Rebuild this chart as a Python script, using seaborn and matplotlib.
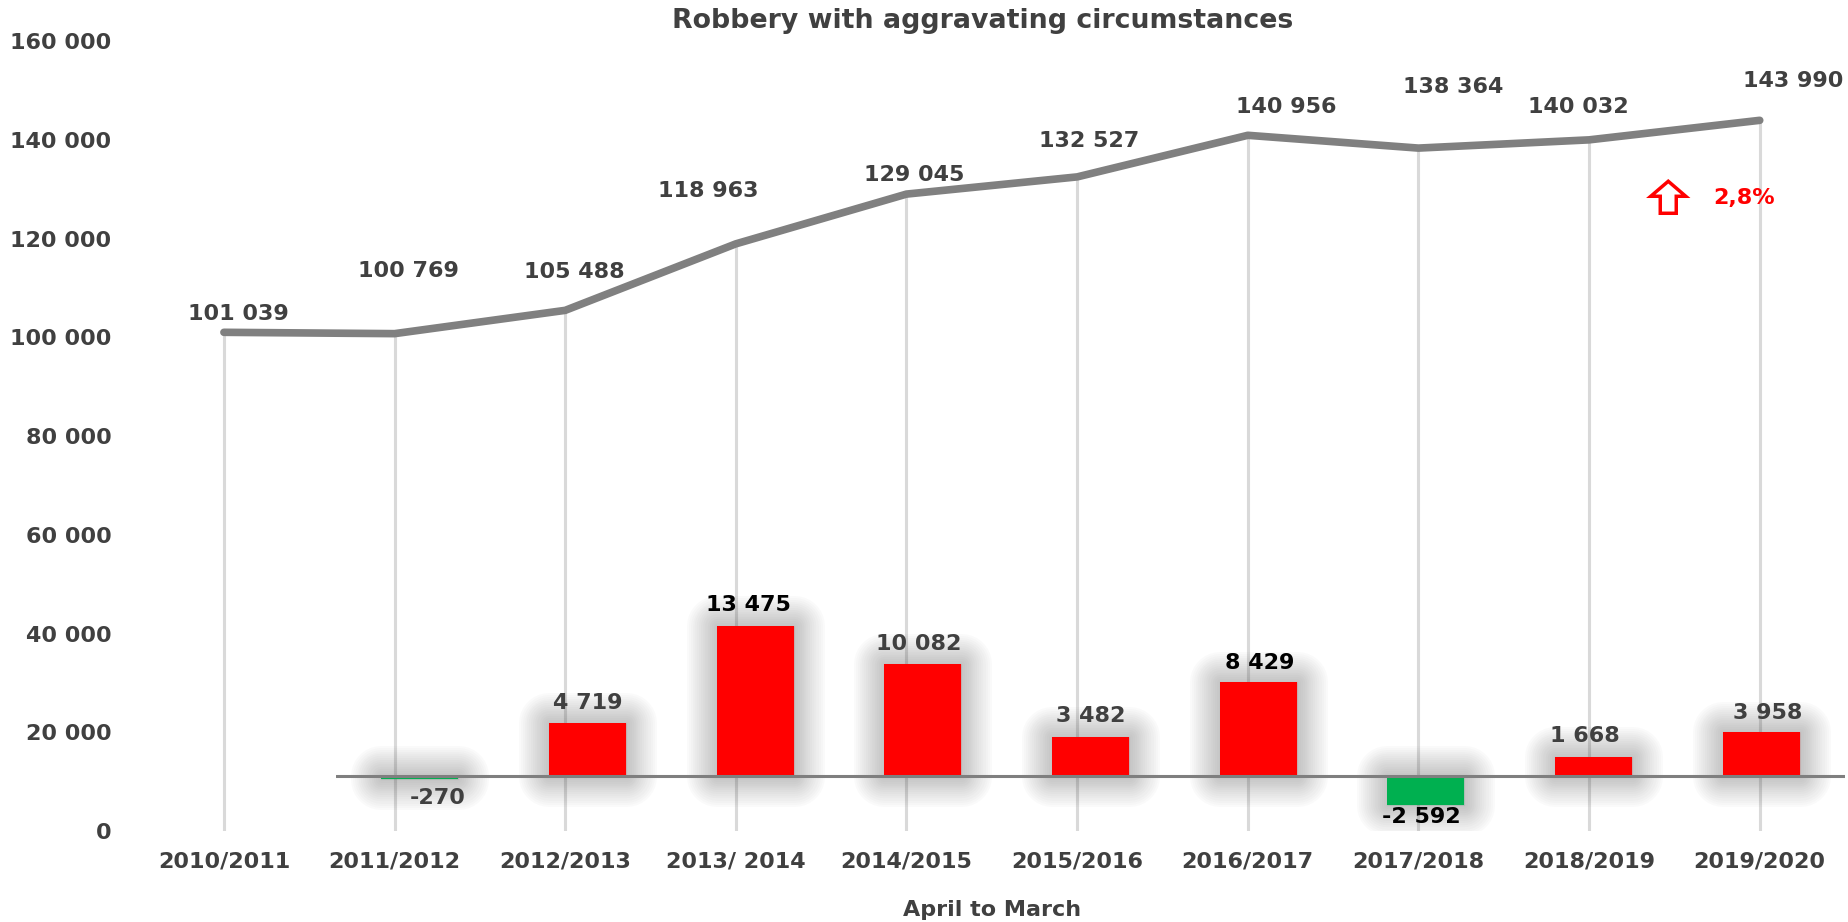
import matplotlib
matplotlib.use("Agg")
import matplotlib.pyplot as plt
import matplotlib.patheffects as pe
import matplotlib.transforms as mtransforms
from matplotlib.patches import Polygon
import pandas as pd
import seaborn as sns

# data
years = ["2010/2011", "2011/2012", "2012/2013", "2013/ 2014", "2014/2015",
         "2015/2016", "2016/2017", "2017/2018", "2018/2019", "2019/2020"]
totals = [101039, 100769, 105488, 118963, 129045, 132527, 140956, 138364, 140032, 143990]
changes = [-270, 4719, 13475, 10082, 3482, 8429, -2592, 1668, 3958]

TXT = "#404040"
FS = 16


def fmt(v):
    return f"{v:,}".replace(",", " ")


sns.set_theme(style="white")
plt.rcParams["font.family"] = ["DejaVu Sans"]

fig = plt.figure(figsize=(18.48, 9.22), dpi=100)
ax = fig.add_axes([0.075, 0.0987, 0.9234, 0.8565])
# the bars sit on their own (secondary) category axis, like in the excel original
ax2 = fig.add_axes([0.1818, 0.0987, 0.8166, 0.8565])
ax2.patch.set_alpha(0)

df = pd.DataFrame({"pos": range(len(years)), "year": years, "total": totals})
ax.vlines(df["pos"], 0, df["total"], color="#d9d9d9", lw=2.2, zorder=0)
sns.lineplot(data=df, x="pos", y="total", ax=ax, color="#808080", lw=5.5,
             solid_capstyle="round")
ax.set_xlim(-0.5, 9.5)
ax.set_ylim(0, 160000)
ax.set_yticks(range(0, 160001, 20000))
ax.set_yticklabels([fmt(v) for v in range(0, 160001, 20000)])
ax.set_xticks(df["pos"])
ax.set_xticklabels(years)
ax.set_xlabel("")
ax.set_ylabel("")
ax.tick_params(axis="both", length=0, labelsize=FS, labelcolor=TXT)
ax.tick_params(axis="x", pad=15)
ax.tick_params(axis="y", pad=19.5)
for lbl in ax.get_xticklabels() + ax.get_yticklabels():
    lbl.set_fontweight("bold")
sns.despine(ax=ax, left=True, bottom=True)

# label placement (pixels) copied from the hand-placed excel labels
line_offsets = [(14, 18), (14, 63), (9, 38), (-28, 53), (8, 19),
                (12, 36), (38, 28), (35, 61), (-11, 33), (33, 39)]
for i, (v, off) in enumerate(zip(totals, line_offsets)):
    ax.annotate(fmt(v), (i, v), xytext=off, textcoords="offset pixels",
                ha="center", va="center", fontsize=FS, fontweight="bold", color=TXT)

# year-on-year change bars
bar_df = pd.DataFrame({"year": years[1:], "change": changes})
bar_colors = ["#FF0000" if c > 0 else "#00B050" for c in changes]
sns.barplot(data=bar_df, x="year", y="change", hue="year", palette=bar_colors,
            legend=False, width=0.46, saturation=1, linewidth=0, ax=ax2)
ax2.set_xlim(-0.5, 8.5)
ax2.set_ylim(-4970, 66010)
ax2.axhline(0, color="#7f7f7f", lw=2.2, zorder=3)
ax2.axis("off")

glow = [pe.withStroke(linewidth=w, foreground="#505050", alpha=0.022, joinstyle="round")
        for w in range(44, 0, -3)] + [pe.Normal()]
for p in ax2.patches:
    p.set_edgecolor("none")
    p.set_path_effects(glow)

bar_label_colors = [TXT, TXT, "black", TXT, TXT, "black", "black", TXT, TXT]
bar_offsets = [(18, -19), (0, 20), (-7, 21), (-4, 20), (0, 21),
               (2, 19), (-5, -12), (-9, 21), (6, 19)]
for i, (c, col, off) in enumerate(zip(changes, bar_label_colors, bar_offsets)):
    ax2.annotate(fmt(c), (i, c), xytext=off, textcoords="offset pixels",
                 ha="center", va="center", fontsize=FS, fontweight="bold", color=col)

# last year's growth: hollow arrow + percentage
pct = (totals[-1] - totals[-2]) / totals[-2] * 100
arrow_pts = [(0, 16), (17.5, 1), (8, 1), (8, -16), (-8, -16), (-8, 1), (-17.5, 1)]
arrow_tr = mtransforms.ScaledTranslation(8.464, 128400, ax.transData)
ax.add_patch(Polygon(arrow_pts, closed=True, transform=arrow_tr, fc="white",
                     ec="red", lw=2.5, joinstyle="miter"))
ax.text(8.907, 128200, f"{pct:.1f}%".replace(".", ","), ha="center", va="center",
        fontsize=FS, fontweight="bold", color="red")

fig.text(0.5317, 1 - 21 / 922, "Robbery with aggravating circumstances", ha="center",
         va="center", fontsize=19.3, fontweight="bold", color=TXT)
fig.text(0.537, 1 - 910 / 922, "April to March", ha="center", va="center",
         fontsize=FS, fontweight="bold", color=TXT)

fig.savefig("out.png", dpi=100)
